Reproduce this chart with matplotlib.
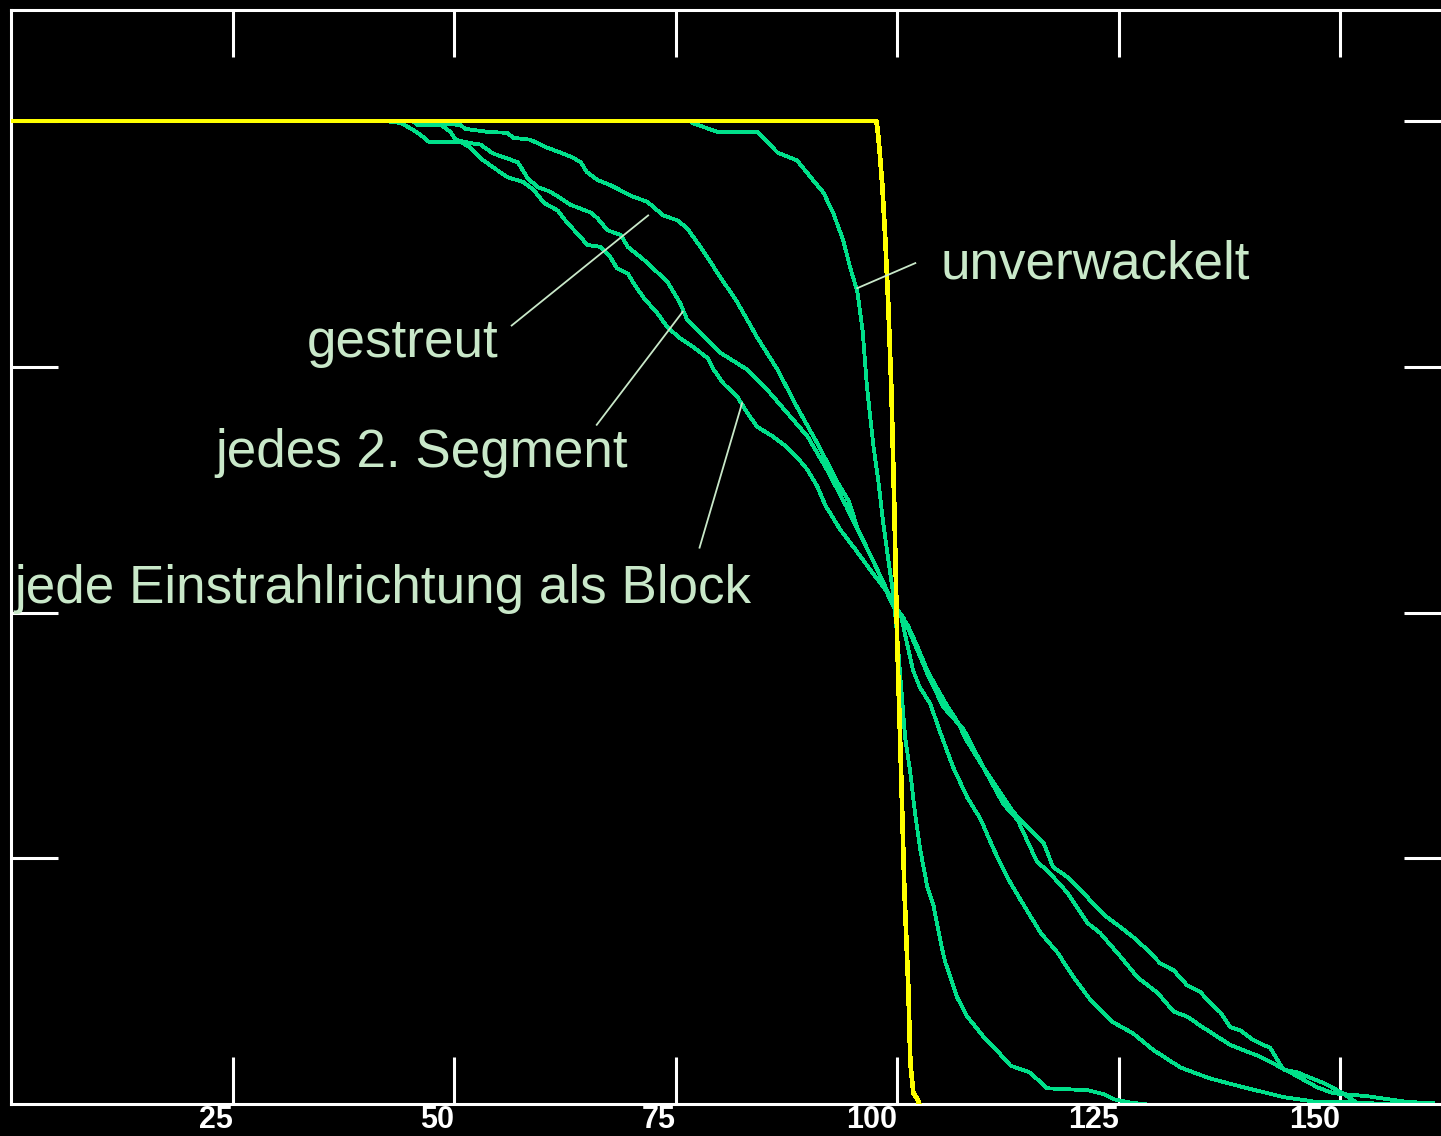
import matplotlib
matplotlib.use('Agg')
import matplotlib.pyplot as plt

# Profil ohne Bewegung (gelb)
ideal_x = [0, 97.65, 97.77, 97.99, 98.33, 98.67, 99.0, 99.35, 99.69, 100.0,
           100.47, 100.81, 101.26, 101.49, 101.83, 102.28, 102.5]
ideal_y = [100, 100, 99.3, 97.3, 93.4, 87.8, 81.3, 72.6, 60.3, 47.2,
           33.0, 21.9, 11.8, 4.2, 1.1, 0.5, 0]

# unverwackelt
unv_x = [0, 76.7, 76.9, 79.7, 84.2, 86.5, 88.7, 90.5, 91.7, 92.8, 93.9, 94.7, 95.5,
         96.1, 96.6, 97.3, 97.9, 98.4, 99.0, 99.6, 100.0, 100.4, 100.9, 101.5, 102.0,
         102.6, 103.4, 104.1, 104.9, 105.4, 106.8, 107.9, 109.7, 110.9, 112.8, 115.0,
         116.9, 121.5, 123.3, 124.4, 126.5, 128.0]
unv_y = [100, 100, 99.8, 98.9, 98.9, 96.8, 96.0, 94.0, 92.7, 90.6, 87.9, 85.1, 82.7,
         78.7, 72.9, 67.1, 63.2, 59.3, 55.4, 51.6, 47.6, 43.0, 37.3, 33.6, 29.7,
         25.9, 22.1, 20.2, 16.5, 14.5, 10.8, 8.9, 6.9, 5.8, 3.9, 3.2,
         1.6, 1.4, 1.0, 0.5, 0.1, 0]

# gestreut
gest_x = [0, 47.4, 48.1, 50.7, 51.3, 53.8, 56.0, 56.7, 58.6, 60.5, 62.0, 63.4, 64.3,
          65.0, 66.2, 67.6, 70.2, 71.8, 73.6, 75.2, 76.3, 77.8, 79.7, 82.0, 84.2,
          86.5, 88.7, 91.0, 93.3, 94.5, 95.6, 97.0, 98.3, 99.6, 100.4, 101.2, 101.8,
          102.6, 103.7, 104.9, 106.3, 107.9, 109.4, 110.9, 112.4, 113.9, 116.2, 118.1,
          119.9, 121.8, 124.4, 126.6, 128.9, 132.0, 135.3, 139.1, 143.6, 147.4, 151.5,
          152.3]
gest_y = [100, 100, 99.8, 99.6, 99.2, 98.9, 98.8, 98.3, 98.1, 97.3, 96.8, 96.3, 95.8,
          94.8, 94.0, 93.5, 92.3, 91.8, 90.4, 89.9, 89.1, 87.2, 84.6, 81.5, 78.0,
          74.7, 70.9, 67.2, 63.2, 61.4, 58.4, 55.8, 53.3, 50.6, 49.8, 46.5, 44.1,
          42.3, 40.8, 37.7, 34.3, 31.2, 29.0, 25.9, 23.1, 20.8, 17.4, 15.4,
          12.9, 10.6, 8.3, 7.2, 5.5, 3.7, 2.6, 1.7, 0.7, 0.2, 0.2,
          0]

# jedes 2. Segment
seg_x = [0, 45.3, 45.9, 48.5, 49.6, 50.2, 51.6, 53.0, 54.4, 56.0, 57.2, 58.3, 59.4,
         60.9, 63.1, 65.4, 66.2, 67.3, 68.8, 69.6, 71.8, 74.1, 75.5, 76.3, 77.5,
         80.1, 83.1, 85.4, 87.6, 89.9, 92.1, 94.2, 96.4, 97.8, 99.6, 100.7, 101.8,
         103.4, 105.2, 107.5, 109.7, 112.0, 113.6, 115.8, 116.9, 119.2, 121.5, 122.9,
         125.2, 127.1, 129.4, 131.2, 132.7, 134.5, 137.6, 141.0, 144.4, 147.4, 149.2,
         153.0, 157.6, 160.5]
seg_y = [100, 100, 99.6, 99.6, 98.9, 98.1, 97.8, 97.6, 96.7, 96.2, 95.8, 94.2, 93.3,
         92.8, 91.5, 90.7, 90.1, 88.9, 88.4, 87.2, 85.6, 83.6, 81.5, 79.8, 78.7,
         76.4, 74.7, 72.6, 70.3, 67.9, 64.5, 60.9, 56.9, 54.3, 50.8, 49.5, 47.2,
         43.8, 40.4, 38.1, 34.3, 30.5, 28.9, 24.6, 23.8, 21.5, 18.4, 17.4,
         15.0, 12.9, 11.3, 9.4, 8.9, 7.8, 6.0, 4.8, 3.2, 1.7, 1.1,
         0.8, 0.2, 0.1]

# jede Einstrahlrichtung als Block
blk_x = [0, 42.3, 44.0, 45.4, 46.5, 47.1, 49.6, 50.9, 51.8, 53.0, 54.4, 56.0, 57.8,
         59.0, 60.1, 61.7, 62.8, 64.3, 65.0, 66.5, 67.6, 68.4, 69.6, 70.2, 71.4,
         72.9, 74.1, 75.5, 77.0, 78.6, 79.3, 80.4, 82.0, 83.1, 84.2, 86.0, 87.6,
         88.7, 89.9, 91.0, 91.9, 93.6, 95.3, 97.0, 98.7, 99.6, 101.2, 102.3, 103.4,
         104.5, 105.7, 106.8, 107.9, 109.4, 110.5, 112.0, 113.1, 115.0, 116.5, 117.6,
         119.2, 120.7, 122.1, 123.7, 125.2, 126.6, 128.2, 129.7, 131.2, 132.7, 134.2,
         135.3, 136.5, 137.6, 138.7, 140.2, 142.1, 142.9, 143.6, 145.2, 148.2, 150.3,
         151.9, 156.8]
blk_y = [100, 100, 99.8, 99.1, 98.4, 97.9, 97.9, 97.8, 97.3, 96.2, 95.3, 94.3, 93.8,
         93.0, 91.7, 90.9, 89.6, 88.2, 87.4, 87.2, 86.2, 85.0, 84.5, 83.6, 82.0,
         80.5, 79.0, 77.9, 77.0, 75.9, 74.7, 73.3, 71.9, 70.3, 68.9, 67.9, 66.8,
         65.8, 64.5, 62.8, 60.9, 58.4, 56.4, 54.3, 52.3, 50.6, 48.7, 46.5, 44.1,
         42.3, 40.4, 38.9, 36.9, 34.7, 33.2, 31.2, 29.7, 27.9, 26.6, 24.1,
         23.1, 21.8, 20.4, 19.0, 18.0, 17.0, 15.7, 14.3, 13.6, 12.1, 11.4,
         10.3, 9.3, 7.8, 7.5, 6.5, 5.7, 4.5, 3.5, 3.2, 2.1, 1.1,
         0.1, 0]

x_ticks = [25, 50, 75, 100, 125, 150]
y_ticks = [25, 50, 75, 100]

# Beschriftungen: Text, Textposition, Anfang und Ende der Hinweislinie
labels = ['unverwackelt', 'gestreut', 'jedes 2. Segment',
          'jede Einstrahlrichtung als Block']
label_pos = [(104.9, 84.0), (33.4, 76.0), (23.0, 64.8), (0.4, 51.0)]
pointer_from = [(102.05, 85.55), (56.5, 79.2), (66.1, 69.1), (77.7, 56.6)]
pointer_to = [(95.5, 83.0), (71.9, 90.4), (75.8, 80.6), (82.5, 71.3)]

green = '#00e08a'
yellow = '#ffff00'
text_col = '#c9e8c9'

fig = plt.figure(figsize=(14.41, 11.36), dpi=100, facecolor='black')
ax = fig.add_axes([11 / 1441, 32 / 1136, 1440 / 1441, 1094 / 1136])
ax.set_facecolor('black')

for xs, ys in [(unv_x, unv_y), (gest_x, gest_y), (seg_x, seg_y), (blk_x, blk_y)]:
    ax.plot(xs, ys, color=green, lw=2.0, antialiased=False)
ax.plot(ideal_x, ideal_y, color=yellow, lw=2.6, zorder=5, antialiased=False)

for txt, (tx, ty), (x0, y0), (x1, y1) in zip(labels, label_pos, pointer_from, pointer_to):
    ax.plot([x0, x1], [y0, y1], color=text_col, lw=1.3, zorder=6)
    ax.text(tx, ty, txt, color=text_col, fontsize=38.2, family='Liberation Sans',
            ha='left', va='baseline', zorder=7)

ax.set_xlim(0, 162.5)
ax.set_ylim(0, 111.3)

ax.set_xticks(x_ticks)
ax.set_xticklabels([str(v) for v in x_ticks], ha='right', fontsize=22,
                   fontweight='bold', color='white', family='Liberation Sans')
ax.set_yticks(y_ticks)
ax.set_yticklabels([])
ax.tick_params(axis='x', direction='in', length=34, width=2.2, color='white',
               top=True, bottom=True, pad=1)
ax.tick_params(axis='y', direction='in', length=34, width=2.2, color='white',
               left=True, right=True)

for sp in ax.spines.values():
    sp.set_color('white')
    sp.set_linewidth(2.2)

fig.savefig('out.png', dpi=100, facecolor='black')
plt.close()
